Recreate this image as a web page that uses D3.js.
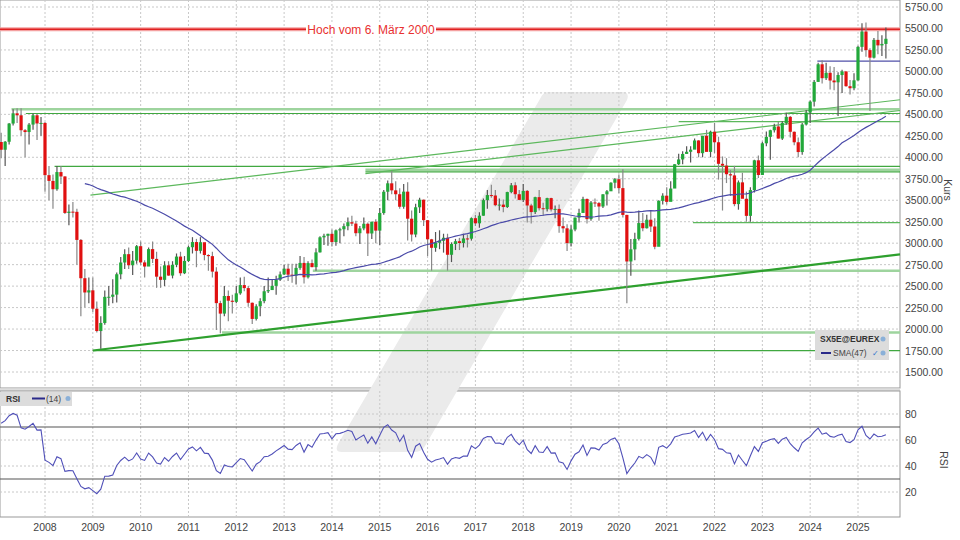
<!DOCTYPE html>
<html>
<head>
<meta charset="utf-8">
<script src="https://cdn.jsdelivr.net/npm/d3@7/dist/d3.min.js"></script>
<style>
  body { margin: 0; background: #fff; }
  text { font-family: "Liberation Sans", Arial, sans-serif; }
</style>
</head>
<body>
<div id="container"></div>
<script>
// monthly closes before the first drawn candle, only used for SMA and RSI (Jan 2005 .. Jan 2007)
let preCloses = [2984, 3058, 3056, 2930, 3076, 3182, 3326, 3263, 3429, 3320, 3447, 3579,
  3692, 3774, 3854, 3839, 3637, 3649, 3692, 3809, 3899, 4004, 3987, 4120, 4178];

// drawn candles, Feb 2007 .. Sep 2025
let closes = [
  4088, 4181, 4393, 4512, 4489, 4315, 4294, 4381, 4489, 4394, 4400,
  3792, 3725, 3628, 3828, 3777, 3352, 3367, 3365, 3038, 2592, 2426, 2451,
  2237, 1977, 2071, 2375, 2376, 2401, 2638, 2775, 2872, 2743, 2797, 2965,
  2776, 2728, 2931, 2817, 2610, 2573, 2742, 2623, 2748, 2844, 2650, 2793,
  2953, 3013, 2911, 3011, 2862, 2849, 2669, 2302, 2180, 2385, 2330, 2317,
  2416, 2512, 2477, 2306, 2118, 2265, 2325, 2440, 2454, 2503, 2575, 2636,
  2703, 2633, 2624, 2712, 2770, 2603, 2768, 2721, 2893, 3068, 3086, 3109,
  3013, 3149, 3162, 3198, 3244, 3228, 3116, 3172, 3226, 3113, 3250, 3146,
  3351, 3599, 3697, 3615, 3570, 3424, 3600, 3285, 3101, 3418, 3506, 3268,
  3045, 2946, 3005, 3028, 3063, 2865, 2990, 3023, 3002, 3055, 3052, 3291,
  3231, 3320, 3501, 3560, 3555, 3442, 3449, 3421, 3595, 3674, 3570, 3504,
  3609, 3439, 3362, 3536, 3407, 3396, 3525, 3393, 3399, 3198, 3173, 3001,
  3159, 3298, 3352, 3515, 3280, 3474, 3467, 3427, 3569, 3604, 3704, 3745,
  3641, 3329, 2787, 2928, 3050, 3234, 3174, 3273, 3194, 2958, 3493, 3553,
  3481, 3636, 3919, 3975, 4039, 4064, 4089, 4196, 4048, 4251, 4063, 4298,
  4175, 3924, 3903, 3803, 3789, 3455, 3708, 3517, 3318, 3618, 3965, 3794,
  4163, 4238, 4315, 4359, 4218, 4399, 4471, 4297, 4175, 4061, 4382, 4521,
  4648, 4878, 5083, 4921, 4984, 4894, 4873, 4958, 5000, 4828, 4804, 4896,
  5286, 5464, 5248, 5160, 5367, 5303, 5320, 5380
];
let highs = [
  4285, 4190, 4400, 4560, 4570, 4570, 4330, 4400, 4510, 4500, 4470,
  4410, 3900, 3800, 3900, 3900, 3780, 3450, 3480, 3400, 3050, 2700, 2600,
  2600, 2320, 2150, 2450, 2500, 2580, 2660, 2840, 2930, 2950, 2910, 2980,
  3020, 2800, 2950, 3020, 2900, 2730, 2790, 2790, 2790, 2880, 2900, 2850,
  2970, 3070, 3050, 3070, 3000, 2870, 2900, 2720, 2330, 2500, 2450, 2400,
  2500, 2600, 2610, 2500, 2310, 2290, 2360, 2500, 2600, 2570, 2620, 2670,
  2750, 2760, 2760, 2760, 2850, 2840, 2790, 2810, 2940, 3080, 3110, 3110,
  3160, 3160, 3180, 3230, 3300, 3320, 3260, 3200, 3300, 3240, 3250, 3280,
  3410, 3620, 3730, 3840, 3720, 3640, 3690, 3710, 3380, 3460, 3530, 3510,
  3270, 3050, 3130, 3150, 3110, 3110, 3010, 3050, 3060, 3110, 3100, 3300,
  3330, 3360, 3520, 3620, 3680, 3620, 3520, 3510, 3600, 3700, 3710, 3620,
  3690, 3620, 3460, 3540, 3620, 3470, 3530, 3530, 3440, 3450, 3300, 3220,
  3210, 3300, 3400, 3540, 3520, 3490, 3520, 3480, 3570, 3620, 3710, 3760,
  3800, 3860, 3330, 3050, 3120, 3380, 3350, 3330, 3380, 3290, 3500, 3580,
  3650, 3720, 3920, 4040, 4070, 4130, 4130, 4220, 4200, 4250, 4320, 4310,
  4400, 4240, 4010, 3990, 3850, 3900, 3730, 3820, 3600, 3650, 3970, 4020,
  4180, 4300, 4320, 4390, 4410, 4420, 4520, 4480, 4300, 4230, 4400, 4550,
  4660, 4900, 5100, 5130, 5100, 5060, 5050, 4990, 5020, 5000, 4900, 4980,
  5300, 5560, 5570, 5270, 5390, 5470, 5420, 5510
];
let lows = [
  3990, 3900, 4150, 4370, 4400, 4250, 4000, 4150, 4320, 4200, 4250,
  3600, 3500, 3400, 3610, 3690, 3340, 3210, 3300, 2750, 2150, 2250, 2300,
  2200, 1960, 1770, 2050, 2270, 2300, 2310, 2580, 2700, 2700, 2630, 2760,
  2750, 2600, 2740, 2770, 2480, 2480, 2500, 2620, 2590, 2720, 2620, 2640,
  2780, 2880, 2720, 2880, 2800, 2680, 2600, 1990, 1950, 2150, 2090, 2180,
  2300, 2400, 2440, 2260, 2060, 2100, 2150, 2300, 2420, 2460, 2400, 2560,
  2630, 2560, 2540, 2520, 2690, 2530, 2590, 2720, 2680, 2890, 2980, 2970,
  2960, 2970, 3000, 3080, 3150, 3200, 3080, 2990, 3150, 2850, 3050, 3000,
  2980, 3330, 3500, 3570, 3500, 3400, 3400, 3030, 3020, 3070, 3350, 3200,
  2850, 2680, 2900, 2930, 2890, 2680, 2780, 2920, 2920, 2950, 2950, 3030,
  3200, 3180, 3320, 3400, 3530, 3430, 3380, 3360, 3410, 3580, 3520, 3500,
  3480, 3240, 3230, 3340, 3380, 3320, 3370, 3370, 3290, 3120, 3120, 2910,
  2960, 3140, 3240, 3360, 3230, 3260, 3420, 3260, 3410, 3440, 3610, 3640,
  3580, 3300, 2300, 2620, 2800, 3030, 3140, 3170, 3130, 2930, 3060, 3450,
  3450, 3490, 3720, 3910, 3920, 4040, 3940, 4100, 4000, 4000, 4070, 4000,
  4050, 3740, 3380, 3700, 3550, 3430, 3390, 3530, 3250, 3250, 3590, 3760,
  3800, 4130, 3970, 4290, 4220, 4200, 4380, 4230, 4140, 4000, 4030, 4370,
  4400, 4590, 4880, 4860, 4900, 4790, 4780, 4480, 4750, 4820, 4730, 4780,
  4890, 5230, 5170, 4540, 5150, 5200, 5180, 5150
];
let firstMonth = 2007 + 1 / 12;

let priceTicks = [1500, 1750, 2000, 2250, 2500, 2750, 3000, 3250, 3500, 3750, 4000, 4250, 4500, 4750, 5000, 5250, 5500, 5750];
let rsiTicks = [20, 40, 60, 80];
let years = [2008, 2009, 2010, 2011, 2012, 2013, 2014, 2015, 2016, 2017, 2018, 2019, 2020, 2021, 2022, 2023, 2024, 2025];

// drawn support/resistance lines: [fromYear, fromPrice, toYear, toPrice, style]
let redHigh = 5490;
let horizLines = [
  [2007.3, 4560, 2025.9, 4560, "light"],
  [2007.6, 4510, 2025.9, 4510, "dark"],
  [2008.2, 3895, 2025.9, 3895, "dark"],
  [2014.7, 3855, 2025.9, 3855, "light"],
  [2014.7, 3830, 2025.9, 3830, "dark"],
  [2008.95, 3560, 2025.9, 4670, "mid"],
  [2014.7, 3810, 2025.9, 4545, "mid"],
  [2021.25, 4415, 2025.9, 4415, "mid"],
  [2021.55, 3240, 2025.9, 3240, "mid"],
  [2013.6, 2680, 2025.9, 2680, "light"],
  [2011.7, 1960, 2025.9, 1960, "light"],
  [2009.0, 1750, 2025.9, 1750, "dark"],
  [2009.0, 1750, 2025.9, 2870, "thick"]
];
let purpleLine = [2024.15, 5120, 2025.9, 5120];

let w = 960, h = 540;
let plotRight = 900;
let priceTop = 0, priceBottom = 388;
let rsiTop = 391, rsiBottom = 517;

let viz = d3.select("#container").append("svg")
  .attr("width", w).attr("height", h);

let x = d3.scaleLinear().domain([2008, 2025]).range([45, 858]);
let y = d3.scaleLinear().domain([1500, 5750]).range([372, 7]);
let yr = d3.scaleLinear().domain([20, 80]).range([492, 414]);

viz.append("rect").attr("width", w).attr("height", h).attr("fill", "#fff");

// panels
viz.append("rect").attr("x", 0).attr("y", priceTop).attr("width", plotRight).attr("height", priceBottom)
  .attr("fill", "#fff").attr("stroke", "#999");
viz.append("rect").attr("x", 0).attr("y", priceBottom + 0.5).attr("width", plotRight).attr("height", rsiTop - priceBottom)
  .attr("fill", "#ddd");
viz.append("rect").attr("x", 0).attr("y", rsiTop).attr("width", plotRight).attr("height", rsiBottom - rsiTop)
  .attr("fill", "#fff").attr("stroke", "#999");

// watermark
viz.append("path")
  .attr("d", "M548,92 L622,92 Q630,92 627,100 L425,446 Q422,452 414,452 L342,452 Q334,452 338,444 L540,99 Q543,92 548,92 Z")
  .attr("fill", "#ebebeb");

// grid
let grid = viz.append("g").attr("stroke", "#c8c8c8").attr("stroke-dasharray", "2,2").attr("stroke-width", 1);
grid.selectAll(".vp").data(years).enter().append("line")
  .attr("x1", d => x(d)).attr("x2", d => x(d)).attr("y1", 0).attr("y2", priceBottom);
grid.selectAll(".vr").data(years).enter().append("line")
  .attr("x1", d => x(d)).attr("x2", d => x(d)).attr("y1", rsiTop).attr("y2", rsiBottom);
grid.selectAll(".hp").data(priceTicks).enter().append("line")
  .attr("x1", 0).attr("x2", plotRight).attr("y1", d => y(d)).attr("y2", d => y(d));
grid.selectAll(".hr").data(rsiTicks).enter().append("line")
  .attr("x1", 0).attr("x2", plotRight).attr("y1", d => yr(d)).attr("y2", d => yr(d));

// support lines
let lineStyle = {
  light: ["#9ed49e", 2.5],
  dark: ["#40a840", 1.2],
  mid: ["#5cb85c", 1.2],
  thick: ["#2ea02e", 2.2]
};
viz.selectAll(".sr").data(horizLines).enter().append("line")
  .attr("x1", d => x(d[0])).attr("y1", d => y(d[1]))
  .attr("x2", d => Math.min(plotRight, x(d[2]))).attr("y2", d => y(d[3]))
  .attr("stroke", d => lineStyle[d[4]][0]).attr("stroke-width", d => lineStyle[d[4]][1]);

viz.append("line")
  .attr("x1", 0).attr("x2", plotRight).attr("y1", y(redHigh)).attr("y2", y(redHigh))
  .attr("stroke", "#f4a0a0").attr("stroke-width", 4);
viz.append("line")
  .attr("x1", 0).attr("x2", plotRight).attr("y1", y(redHigh)).attr("y2", y(redHigh))
  .attr("stroke", "#e02020").attr("stroke-width", 1.5);
viz.append("rect").attr("x", 306).attr("y", y(redHigh) - 7).attr("width", 130).attr("height", 14).attr("fill", "#fff");
viz.append("text").attr("x", 371).attr("y", y(redHigh) + 4.5).attr("text-anchor", "middle")
  .attr("font-size", 12).attr("fill", "#e83030").text("Hoch vom 6. März 2000");

viz.append("line")
  .attr("x1", x(purpleLine[0])).attr("x2", plotRight).attr("y1", y(purpleLine[1])).attr("y2", y(purpleLine[3]))
  .attr("stroke", "#5050a8").attr("stroke-width", 1.3);

// SMA(47) and RSI(14) from the closes
let allCloses = preCloses.concat(closes);
let offset = preCloses.length;
let sma = [];
for (let i = 46; i < allCloses.length; i++) {
  let v = d3.mean(allCloses.slice(i - 46, i + 1));
  if (i - offset >= 0) sma.push([firstMonth + (i - offset) / 12, v]);
}
let rsi = [];
let avgG = 0, avgL = 0;
for (let i = 1; i < allCloses.length; i++) {
  let ch = allCloses[i] - allCloses[i - 1];
  let g = Math.max(ch, 0), l = Math.max(-ch, 0);
  if (i <= 14) { avgG += g / 14; avgL += l / 14; }
  else { avgG = (avgG * 13 + g) / 14; avgL = (avgL * 13 + l) / 14; }
  if (i >= 14 && i - offset >= 0) {
    rsi.push([firstMonth + (i - offset) / 12, 100 - 100 / (1 + avgG / avgL)]);
  }
}

// candles
let candles = closes.map((c, i) => ({
  t: firstMonth + i / 12,
  o: i === 0 ? preCloses[preCloses.length - 1] : closes[i - 1],
  c: c, hi: highs[i], lo: lows[i]
}));
let cg = viz.append("g");
cg.selectAll(".wick").data(candles).enter().append("line")
  .attr("x1", d => x(d.t)).attr("x2", d => x(d.t))
  .attr("y1", d => y(d.hi)).attr("y2", d => y(d.lo))
  .attr("stroke", d => d.c >= d.o ? "#555" : "#888").attr("stroke-width", 1.2);
cg.selectAll(".body").data(candles).enter().append("rect")
  .attr("x", d => x(d.t) - 1.6).attr("width", 3.2)
  .attr("y", d => y(Math.max(d.o, d.c)))
  .attr("height", d => Math.max(1, Math.abs(y(d.o) - y(d.c))))
  .attr("fill", d => d.c >= d.o ? "#22a83a" : "#e01010");

viz.append("path").datum(sma)
  .attr("d", d3.line().x(d => x(d[0])).y(d => y(d[1])))
  .attr("fill", "none").attr("stroke", "#4a4aa8").attr("stroke-width", 1.2);

// RSI panel
viz.selectAll(".rl").data([70, 30]).enter().append("line")
  .attr("x1", 0).attr("x2", plotRight).attr("y1", d => yr(d)).attr("y2", d => yr(d))
  .attr("stroke", "#555").attr("stroke-width", 1.2);
viz.append("path").datum(rsi)
  .attr("d", d3.line().x(d => x(d[0])).y(d => yr(d[1])))
  .attr("fill", "none").attr("stroke", "#5050b8").attr("stroke-width", 1.1);

// axes labels
viz.selectAll(".pl").data(priceTicks).enter().append("text")
  .attr("x", 905).attr("y", d => y(d) + 4).attr("font-size", 10.5).attr("fill", "#444")
  .text(d => d3.format(".2f")(d));
viz.selectAll(".rtl").data(rsiTicks).enter().append("text")
  .attr("x", 905).attr("y", d => yr(d) + 4).attr("font-size", 10.5).attr("fill", "#444").text(d => d);
viz.selectAll(".yl").data(years).enter().append("text")
  .attr("x", d => x(d)).attr("y", 531).attr("text-anchor", "middle")
  .attr("font-size", 10.5).attr("fill", "#444").text(d => d);
viz.append("text").attr("transform", "translate(944,190) rotate(90)").attr("text-anchor", "middle")
  .attr("font-size", 10.5).attr("fill", "#444").text("Kurs");
viz.append("text").attr("transform", "translate(940,460) rotate(90)").attr("text-anchor", "middle")
  .attr("font-size", 10.5).attr("fill", "#444").text("RSI");

// legends
let lg = viz.append("g").attr("transform", "translate(815,330)");
lg.append("rect").attr("width", 74).attr("height", 30).attr("fill", "#dcdcdc");
lg.append("text").attr("x", 5).attr("y", 12).attr("font-size", 8.5).attr("font-weight", "bold").attr("fill", "#333").text("SX5E@EUREX");
lg.append("line").attr("x1", 6).attr("x2", 16).attr("y1", 23).attr("y2", 23).attr("stroke", "#2a2a8a").attr("stroke-width", 2);
lg.append("text").attr("x", 18).attr("y", 26).attr("font-size", 8.5).attr("fill", "#444").text("SMA(47)");
lg.append("text").attr("x", 57).attr("y", 26).attr("font-size", 8).attr("fill", "#3377cc").text("✓");
lg.append("circle").attr("cx", 68).attr("cy", 23).attr("r", 2.5).attr("fill", "#8ab0d8");
lg.append("circle").attr("cx", 68).attr("cy", 9).attr("r", 2.5).attr("fill", "#8ab0d8");

let rl = viz.append("g").attr("transform", "translate(0,392)");
rl.append("rect").attr("width", 72).attr("height", 14).attr("fill", "#dcdcdc");
rl.append("text").attr("x", 6).attr("y", 10).attr("font-size", 8.5).attr("font-weight", "bold").attr("fill", "#333").text("RSI");
rl.append("line").attr("x1", 32).attr("x2", 45).attr("y1", 6.5).attr("y2", 6.5).attr("stroke", "#2a2a8a").attr("stroke-width", 2);
rl.append("text").attr("x", 46).attr("y", 10).attr("font-size", 8.5).attr("fill", "#444").text("(14)");
rl.append("circle").attr("cx", 68).attr("cy", 6.5).attr("r", 2.5).attr("fill", "#8ab0d8");
</script>
</body>
</html>
